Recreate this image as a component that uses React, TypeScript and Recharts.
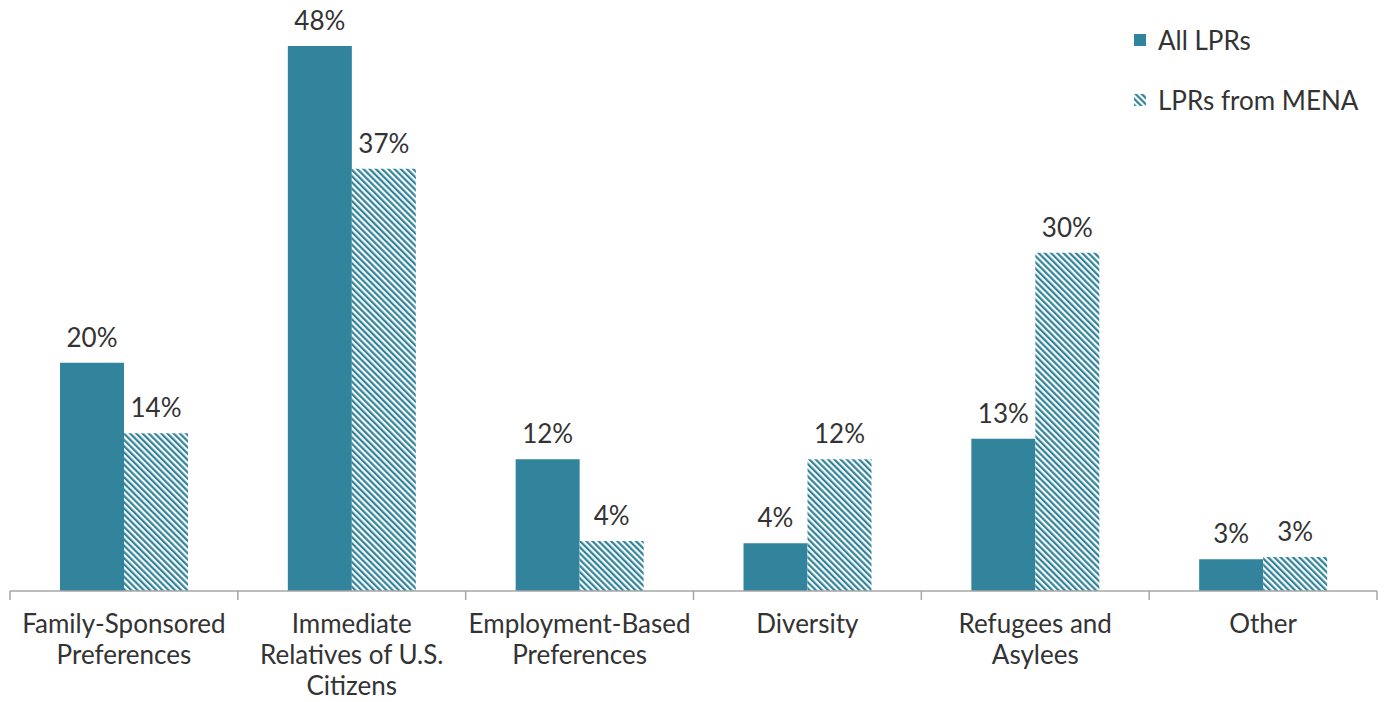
import React from "react";
import { BarChart, Bar, XAxis, YAxis, LabelList } from "recharts";

// categories split into the lines shown under the axis
const categories = [
  "Family-Sponsored\nPreferences",
  "Immediate\nRelatives of U.S.\nCitizens",
  "Employment-Based\nPreferences",
  "Diversity",
  "Refugees and\nAsylees",
  "Other",
];
const allLprs = [20.1, 48, 11.6, 4.2, 13.4, 2.8];
const menaLprs = [13.9, 37.2, 4.4, 11.6, 29.8, 3.0];
const seriesNames = ["All LPRs", "LPRs from MENA"];

const TEAL = "#31849B";
const TEXT = "#333333";
const FONT = "Lato, 'Open Sans', sans-serif";
const FS = 26;

const data = categories.map((name, i) => ({
  name,
  all: allLprs[i],
  mena: menaLprs[i],
}));

const CategoryTick = (props: any) => {
  const { x, y, payload, index, visibleTicksCount } = props;
  const half = payload.offset || 227.7 / 2;
  const lines = String(payload.value).split("\n");
  const last = index === (visibleTicksCount ?? categories.length) - 1;
  return (
    <g>
      <line x1={x - half} x2={x - half} y1={y} y2={y + 9} stroke="#a6a6a6" strokeWidth={1.5} />
      {last && (
        <line x1={x + half} x2={x + half} y1={y} y2={y + 9} stroke="#a6a6a6" strokeWidth={1.5} />
      )}
      <text x={x} y={y} textAnchor="middle" fill={TEXT} fontSize={FS} fontFamily={FONT}>
        {lines.map((l, i) => (
          <tspan key={i} x={x} y={y + 42 + i * 31}>
            {l}
          </tspan>
        ))}
      </text>
    </g>
  );
};

const ChartLegend = () => (
  <div
    style={{
      position: "absolute",
      left: 1134,
      top: 24,
      fontFamily: FONT,
      fontSize: FS,
      color: TEXT,
      whiteSpace: "nowrap",
    }}
  >
    {seriesNames.map((n, i) => (
      <div key={n} style={{ display: "flex", alignItems: "center", height: 32, marginBottom: i === 0 ? 28 : 0 }}>
        <svg width={12} height={12} style={{ marginRight: 12 }}>
          <rect width={12} height={12} fill={i === 0 ? TEAL : "url(#hatch)"} />
        </svg>
        <span>{n}</span>
      </div>
    ))}
  </div>
);

export default function App() {
  return (
    <div style={{ position: "absolute", left: 0, top: 0, width: 1384, height: 702, background: "#fff" }}>
      <BarChart
        width={1384}
        height={702}
        data={data}
        margin={{ top: 46, right: 7, bottom: 0, left: 10 }}
        barGap={0}
        barSize={64}
      >
        <defs>
          <pattern id="hatch" patternUnits="userSpaceOnUse" width={4.4} height={10} patternTransform="rotate(-45)">
            <rect width={4.4} height={10} fill="#ffffff" />
            <line x1={1.1} x2={1.1} y1={0} y2={10} stroke={TEAL} strokeWidth={2.3} />
          </pattern>
        </defs>
        <XAxis
          dataKey="name"
          height={111}
          tickSize={0}
          tickMargin={0}
          tickLine={false}
          axisLine={{ stroke: "#a6a6a6", strokeWidth: 1.5 }}
          tick={<CategoryTick />}
          interval={0}
        />
        <YAxis hide domain={[0, 48]} />
        <Bar dataKey="all" name={seriesNames[0]} fill={TEAL} isAnimationActive={false}>
          <LabelList
            dataKey="all"
            position="top"
            offset={16}
            formatter={(v: any) => `${Math.round(v)}%`}
            fill={TEXT}
            fontSize={FS}
            fontFamily={FONT}
          />
        </Bar>
        <Bar dataKey="mena" name={seriesNames[1]} fill="url(#hatch)" isAnimationActive={false}>
          <LabelList
            dataKey="mena"
            position="top"
            offset={16}
            formatter={(v: any) => `${Math.round(v)}%`}
            fill={TEXT}
            fontSize={FS}
            fontFamily={FONT}
          />
        </Bar>
      </BarChart>
      <ChartLegend />
    </div>
  );
}
